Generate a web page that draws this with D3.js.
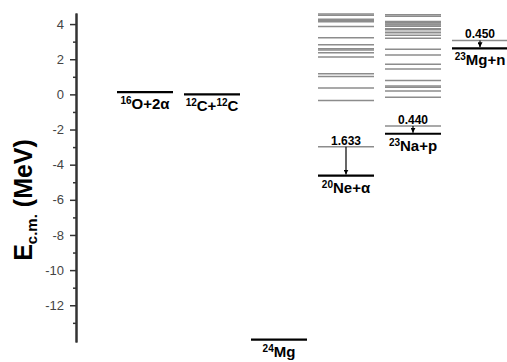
<!DOCTYPE html>
<html>
<head>
<meta charset="utf-8">
<script src="https://cdn.jsdelivr.net/npm/d3@7"></script>
<style>
  body { margin: 0; background: #fff; }
  text { font-family: "Liberation Sans", Arial, sans-serif; }
</style>
</head>
<body>
<script>
// channels (columns) and their threshold energies, MeV
var channels = ["16O+2a", "12C+12C", "24Mg", "20Ne+a", "23Na+p", "23Mg+n"];
var channelLabels = ["^16O+2α", "^12C+^12C", "^24Mg", "^20Ne+α", "^23Na+p", "^23Mg+n"];
var thresholds = [0.13, 0.0, -13.95, -4.62, -2.24, 2.62];

// gray levels (E c.m., MeV)
var neLevels = [-0.35, 0.36, 1.02, 1.18, 2.13, 2.37, 2.52, 2.60, 2.83, 3.22, 3.86, 4.13, 4.19, 4.27, 4.50, 4.57];
var naLevels = [-0.16, 0.19, 0.40, 0.47, 0.79, 1.44, 1.71, 2.24, 2.57, 3.20, 3.36, 3.50, 3.54, 3.68, 3.73, 3.88, 3.95, 4.00, 4.07, 4.14, 4.44, 4.53];

// first excited states with the arrow down to the threshold
var gammaChannels = ["20Ne+a", "23Na+p", "23Mg+n"];
var gammaEnergies = [1.633, 0.440, 0.450];
var gammaLabels = ["1.633", "0.440", "0.450"];

var majorTicks = [4, 2, 0, -2, -4, -6, -8, -10, -12];
var minorTicks = [3, 1, -1, -3, -5, -7, -9, -11, -13];

var width = 507, height = 362;
var axisX = 76;
var half = 28;

var svg = d3.select("body").append("svg")
    .attr("width", width)
    .attr("height", height);

var y = d3.scaleLinear()
    .domain([-14.09, 4.63])
    .range([342, 13]);

var x = d3.scalePoint()
    .domain(channels)
    .range([145, 480]);

// axis, minor ticks first
var minorAxis = d3.axisLeft(y)
    .tickValues(minorTicks)
    .tickSize(3)
    .tickSizeOuter(0)
    .tickFormat("");

var majorAxis = d3.axisLeft(y)
    .tickValues(majorTicks)
    .tickSize(6)
    .tickSizeOuter(0)
    .tickPadding(6)
    .tickFormat(d => String(d));

var gMinor = svg.append("g")
    .attr("transform", "translate(" + axisX + ",0)")
    .call(minorAxis);

var gMajor = svg.append("g")
    .attr("transform", "translate(" + axisX + ",0)")
    .call(majorAxis);

[gMinor, gMajor].forEach(g => {
    g.select(".domain").attr("stroke", "#333").attr("stroke-width", 2);
    g.selectAll(".tick line").attr("stroke", "#333").attr("stroke-width", 1.5);
});
gMajor.selectAll(".tick text")
    .attr("font-size", "13px")
    .attr("font-family", "Liberation Sans, Arial, sans-serif")
    .attr("fill", "#444");

// y label
var ylab = svg.append("text")
    .attr("transform", "translate(32,200) rotate(-90)")
    .attr("text-anchor", "middle")
    .attr("font-weight", "bold")
    .attr("font-size", "25px")
    .attr("fill", "#000");
ylab.append("tspan").text("E");
ylab.append("tspan").attr("font-size", "15px").attr("dy", 5).text("c.m.");
ylab.append("tspan").attr("dy", -5).text(" (MeV)");

// gray levels
function grayLines(levels, ch) {
    svg.append("g").selectAll("line")
        .data(levels)
        .enter().append("line")
        .attr("x1", x(ch) - half)
        .attr("x2", x(ch) + half)
        .attr("y1", d => y(d))
        .attr("y2", d => y(d))
        .attr("stroke", "#8c8c8c")
        .attr("stroke-width", 1.5);
}
grayLines(neLevels, "20Ne+a");
grayLines(naLevels, "23Na+p");

// arrow marker
svg.append("defs").append("marker")
    .attr("id", "arrow")
    .attr("viewBox", "0 0 10 10")
    .attr("refX", 10)
    .attr("refY", 5)
    .attr("markerUnits", "userSpaceOnUse")
    .attr("markerWidth", 5)
    .attr("markerHeight", 5)
    .attr("orient", "auto")
    .append("path")
    .attr("d", "M0,0L10,5L0,10Z")
    .attr("fill", "#000");

gammaChannels.forEach((ch, i) => {
    var thr = thresholds[channels.indexOf(ch)];
    var e = thr + gammaEnergies[i];
    svg.append("line")
        .attr("x1", x(ch) - half)
        .attr("x2", x(ch) + half)
        .attr("y1", y(e))
        .attr("y2", y(e))
        .attr("stroke", "#8c8c8c")
        .attr("stroke-width", 1.5);
    svg.append("line")
        .attr("x1", x(ch))
        .attr("x2", x(ch))
        .attr("y1", y(e))
        .attr("y2", y(thr) - 1)
        .attr("stroke", "#000")
        .attr("stroke-width", 1.2)
        .attr("marker-end", "url(#arrow)");
    svg.append("text")
        .attr("x", x(ch))
        .attr("y", y(e) - 2)
        .attr("text-anchor", "middle")
        .attr("font-weight", "bold")
        .attr("font-size", "12px")
        .text(gammaLabels[i]);
});

// thresholds
channels.forEach((ch, i) => {
    svg.append("line")
        .attr("x1", x(ch) - half)
        .attr("x2", x(ch) + half)
        .attr("y1", y(thresholds[i]))
        .attr("y2", y(thresholds[i]))
        .attr("stroke", "#000")
        .attr("stroke-width", 2.2);

    var t = svg.append("text")
        .attr("x", x(ch))
        .attr("y", y(thresholds[i]) + 17)
        .attr("text-anchor", "middle")
        .attr("font-weight", "bold")
        .attr("font-size", "15px");
    channelLabels[i].split(/(\^\d+)/).filter(s => s.length).forEach(s => {
        if (s[0] === "^") {
            t.append("tspan").attr("font-size", "10px").attr("dy", -5).text(s.slice(1));
        } else {
            t.append("tspan").attr("dy", 5).text(s);
        }
    });
});
</script>
</body>
</html>
